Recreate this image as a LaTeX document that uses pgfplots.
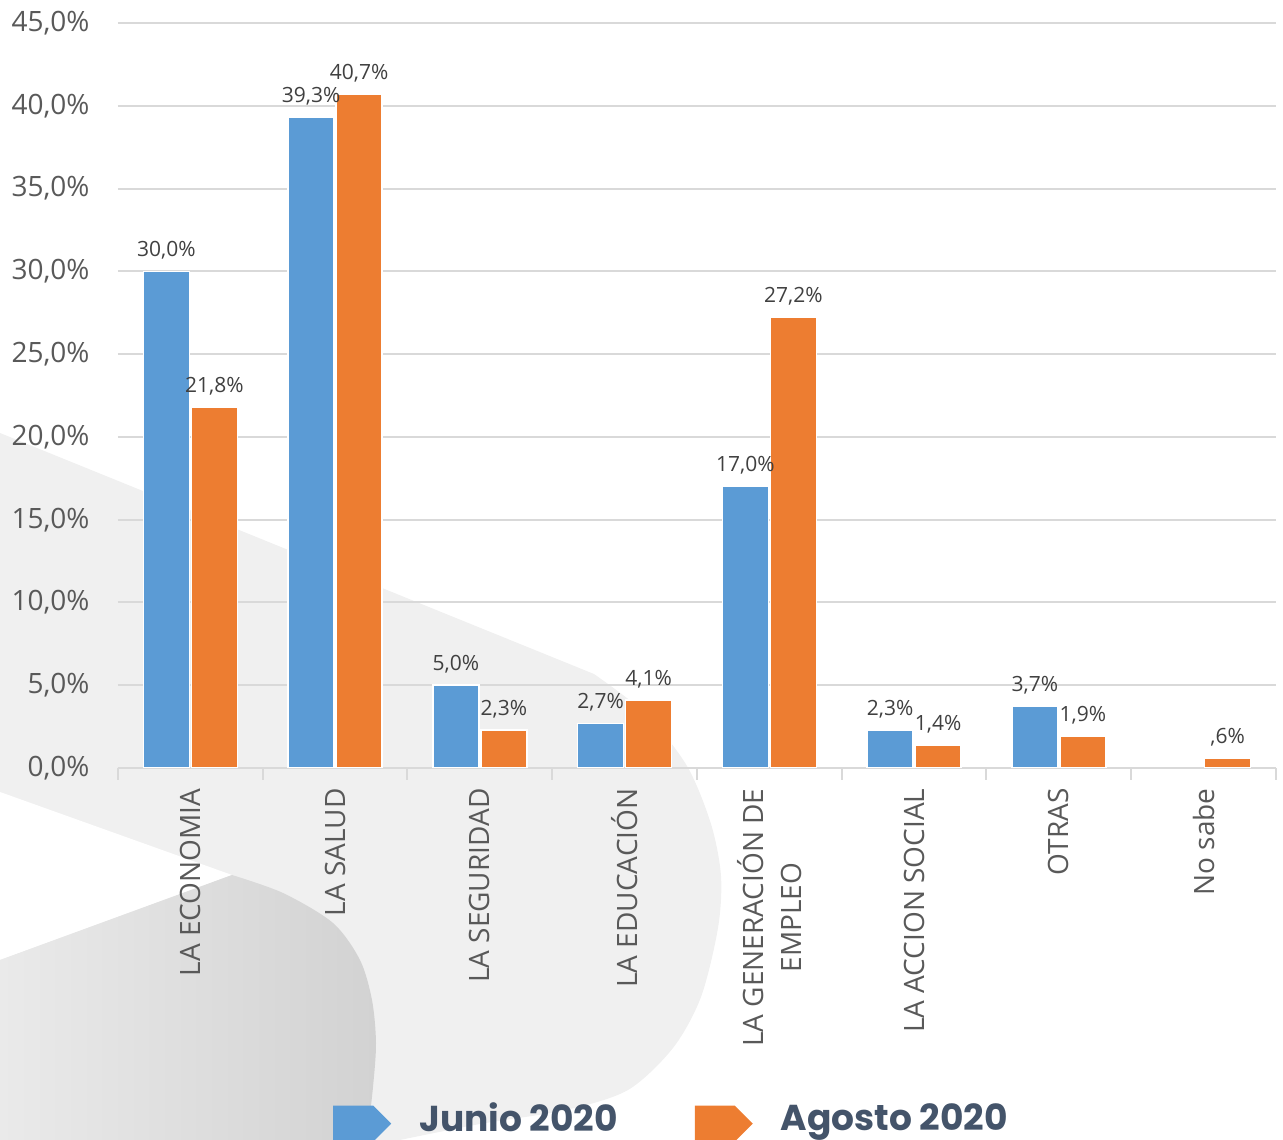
\documentclass[border=0pt]{standalone}
\usepackage{pgfplots}
\pgfplotsset{compat=1.18}
\usepackage{fontspec}
\setmainfont{Open Sans}
\newfontfamily\poppins{Poppins}

\definecolor{junio}{HTML}{5B9BD5}
\definecolor{agosto}{HTML}{ED7D31}
\definecolor{gridc}{HTML}{D9D9D9}
\definecolor{ticktext}{HTML}{595959}
\definecolor{lbltext}{HTML}{404040}
\definecolor{legtext}{HTML}{44546A}
\definecolor{wmlight}{HTML}{F0F0F0}
\definecolor{wmdarkA}{HTML}{EAEAEA}
\definecolor{wmdarkB}{HTML}{D2D2D2}

\begin{document}
\begin{tikzpicture}
\path[use as bounding box] (0,0) rectangle (1283pt,1140pt);

% background watermark (pixel coordinates, y downwards)
\begin{scope}[x=1pt,y=-1pt,shift={(0pt,1140pt)}]
  \fill[wmlight] (0,433) -- plot[smooth] coordinates {(594,674) (646,714) (687,766) (711,824) (721,876) (718,928) (701,997) (673,1048) (628,1090) (566,1110) (480,1124) (400,1140)} -- (0,1140) -- cycle;
  \fill[white] (0,792) -- (232,875) -- (0,960) -- cycle;
  \shade[left color=wmdarkA, right color=wmdarkB] (0,960) -- (232,875) -- plot[smooth] coordinates {(232,875) (283,893) (333,923) (360,960) (372,1000) (376,1043) (373,1087) (367,1140)} -- (0,1140) -- cycle;
\end{scope}

\begin{axis}[
  at={(118pt,372pt)}, anchor=south west,
  scale only axis,
  width=1158pt, height=745pt,
  xmin=-0.5, xmax=7.5,
  ymin=0, ymax=45,
  ybar=2pt, bar width=46pt,
  axis x line*=bottom, axis y line*=left,
  x axis line style={gridc, line width=2pt, -},
  y axis line style={draw=none},
  ymajorgrids,
  grid style={gridc, line width=2pt},
  ytick={0,5,...,45},
  yticklabels={{0,0\%},{5,0\%},{10,0\%},{15,0\%},{20,0\%},{25,0\%},{30,0\%},{35,0\%},{40,0\%},{45,0\%}},
  yticklabel style={font=\fontsize{28}{32}\selectfont, text=ticktext, anchor=east, xshift=-25pt},
  xtick={0,...,7},
  minor xtick={-0.5,0.5,...,7.5},
  major tick length=0pt,
  minor tick length=12pt,
  tick align=outside,
  xtick pos=bottom,
  minor tick style={gridc, line width=2pt},
  xticklabels={{LA ECONOMIA},{LA SALUD},{LA SEGURIDAD},{LA EDUCACIÓN},{LA GENERACIÓN DE\\EMPLEO},{LA ACCION SOCIAL},{OTRAS},{No sabe}},
  xticklabel style={rotate=90, anchor=east, align=center, font=\fontsize{28}{38}\selectfont, text=ticktext},
  xticklabel shift=17pt,
  point meta=explicit symbolic,
  nodes near coords,
  every node near coord/.append style={font=\fontsize{21}{25}\selectfont, text=lbltext, anchor=south, yshift=8pt},
  legend columns=2,
  legend style={at={(0.1857,-0.4752)}, anchor=west, draw=none, fill=none, inner sep=0pt,
    font=\poppins\bfseries\fontsize{36}{38}\selectfont, text=legtext,
    nodes={inner sep=0pt, anchor=west},
    /tikz/every odd column/.append style={column sep=28pt},
    /tikz/every even column/.append style={column sep=77pt}},
  legend image code/.code={\path[#1, draw=none] (0pt,-24pt) -- (40pt,-24pt) -- (58pt,-6pt) -- (40pt,12pt) -- (0pt,12pt) -- cycle;},
]
\addplot[fill=junio, draw=white, line width=1.5pt] coordinates {
  (0,30.0) [30,0\%]
  (1,39.3) [39,3\%]
  (2,5.0)  [5,0\%]
  (3,2.7)  [2,7\%]
  (4,17.0) [17,0\%]
  (5,2.3)  [2,3\%]
  (6,3.7)  [3,7\%]
};
\addlegendentry{Junio 2020}
\addplot[fill=agosto, draw=white, line width=1.5pt] coordinates {
  (0,21.8) [21,8\%]
  (1,40.7) [40,7\%]
  (2,2.3)  [2,3\%]
  (3,4.1)  [4,1\%]
  (4,27.2) [27,2\%]
  (5,1.4)  [1,4\%]
  (6,1.9)  [1,9\%]
  (7,0.6)  [,6\%]
};
\addlegendentry{Agosto 2020}
\end{axis}
\end{tikzpicture}
\end{document}
